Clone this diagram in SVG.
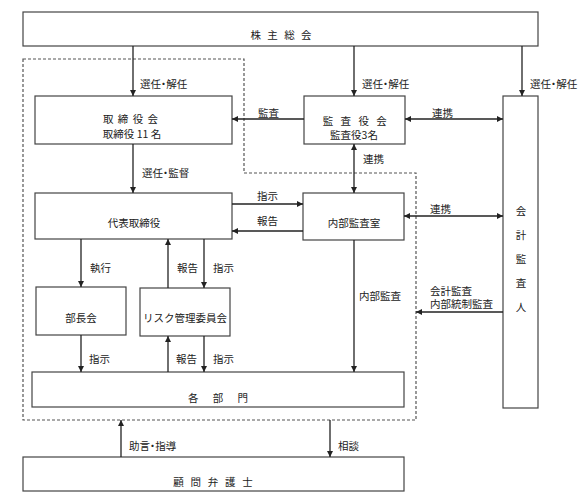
<svg xmlns="http://www.w3.org/2000/svg" width="581" height="504" viewBox="0 0 581 504">
<style>
.box{fill:#fff;stroke:#444;stroke-width:1.2}
.t{font-family:"Noto Sans CJK JP","Noto Sans CJK SC",sans-serif;font-size:10.5px;fill:#222}
.m{text-anchor:middle}
.p{font-feature-settings:"palt"}
.c{fill:none;stroke:#222;stroke-width:1.3}
.dash{fill:none;stroke:#555;stroke-width:1.2;stroke-dasharray:3,2}
</style>
<defs>
<marker id="a" viewBox="0 0 10 10" refX="10" refY="5" markerWidth="6" markerHeight="6" markerUnits="userSpaceOnUse" orient="auto-start-reverse">
<path d="M0,0 L10,5 L0,10 z" fill="#222"/>
</marker>
</defs>
<rect width="581" height="504" fill="#fff"/>
<path class="dash" d="M23,59 H244 V173 H416 V420 H23 Z"/>
<g id="kabunushi"><rect class="box" x="23" y="12" width="515" height="34"/><text class="t m" x="282" y="39" letter-spacing="2">株 主 総 会</text></g>
<g id="torishimariyakukai"><rect class="box" x="35" y="96" width="197" height="48"/><text class="t m" x="131" y="123" letter-spacing="1">取 締 役 会</text><text class="t m" x="132" y="138">取締役 11 名</text></g>
<g id="kansayakukai"><rect class="box" x="304" y="96" width="101" height="48"/><text class="t m" x="356" y="125" letter-spacing="2.5">監 査 役 会</text><text class="t m" x="354" y="139">監査役3名</text></g>
<g id="kaikeikansanin"><rect class="box" x="503" y="96" width="35" height="312"/>
<text class="t m" x="521" y="215">会</text><text class="t m" x="521" y="239">計</text><text class="t m" x="521" y="263">監</text><text class="t m" x="521" y="287">査</text><text class="t m" x="521" y="311">人</text></g>
<g id="daihyo"><rect class="box" x="35" y="193" width="197" height="46"/><text class="t m" x="134" y="227">代表取締役</text></g>
<g id="naibukansashitsu"><rect class="box" x="303" y="193" width="101" height="47"/><text class="t m" x="354" y="227">内部監査室</text></g>
<g id="buchokai"><rect class="box" x="36" y="287" width="90" height="48"/><text class="t m" x="81" y="322">部長会</text></g>
<g id="risk"><rect class="box" x="140" y="288" width="90" height="48"/><text class="t m" x="185" y="322">リスク管理委員会</text></g>
<g id="kakubumon"><rect class="box" x="32" y="372" width="372" height="35"/><text class="t m" x="221" y="402" letter-spacing="6">各 部 門</text></g>
<g id="komon"><rect class="box" x="23" y="457" width="381" height="34"/><text class="t m" x="214" y="485.5" letter-spacing="2.2">顧 問 弁 護 士</text></g>
<g id="connectors">
<line class="c" x1="133" y1="46" x2="133" y2="96" marker-end="url(#a)"/>
<line class="c" x1="354" y1="46" x2="354" y2="96" marker-end="url(#a)"/>
<line class="c" x1="522" y1="46" x2="522" y2="96" marker-end="url(#a)"/>
<line class="c" x1="304" y1="119" x2="232" y2="119" marker-end="url(#a)"/>
<line class="c" x1="405" y1="119" x2="503" y2="119" marker-start="url(#a)" marker-end="url(#a)"/>
<line class="c" x1="354" y1="144" x2="354" y2="193" marker-start="url(#a)" marker-end="url(#a)"/>
<line class="c" x1="133" y1="144" x2="133" y2="193" marker-end="url(#a)"/>
<line class="c" x1="232" y1="204" x2="303" y2="204" marker-end="url(#a)"/>
<line class="c" x1="303" y1="231" x2="232" y2="231" marker-end="url(#a)"/>
<line class="c" x1="404" y1="216" x2="503" y2="216" marker-start="url(#a)" marker-end="url(#a)"/>
<line class="c" x1="81" y1="239" x2="81" y2="287" marker-end="url(#a)"/>
<line class="c" x1="168" y1="288" x2="168" y2="239" marker-end="url(#a)"/>
<line class="c" x1="204" y1="239" x2="204" y2="288" marker-end="url(#a)"/>
<line class="c" x1="354" y1="240" x2="354" y2="372" marker-end="url(#a)"/>
<line class="c" x1="503" y1="312" x2="416" y2="312" marker-end="url(#a)"/>
<line class="c" x1="81" y1="335" x2="81" y2="372" marker-end="url(#a)"/>
<line class="c" x1="168" y1="372" x2="168" y2="336" marker-end="url(#a)"/>
<line class="c" x1="204" y1="336" x2="204" y2="372" marker-end="url(#a)"/>
<line class="c" x1="121" y1="457" x2="121" y2="420" marker-end="url(#a)"/>
<line class="c" x1="330" y1="420" x2="330" y2="457" marker-end="url(#a)"/>
</g>
<g id="labels">
<text class="t p" x="140" y="88">選任・解任</text>
<text class="t p" x="362" y="88">選任・解任</text>
<text class="t p" x="530" y="88">選任・解任</text>
<text class="t" x="258" y="116.5">監査</text>
<text class="t" x="432" y="117">連携</text>
<text class="t" x="363" y="163">連携</text>
<text class="t p" x="142" y="177">選任・監督</text>
<text class="t" x="257" y="200">指示</text>
<text class="t" x="257" y="224.5">報告</text>
<text class="t" x="430" y="213">連携</text>
<text class="t" x="90" y="272">執行</text>
<text class="t" x="177" y="272">報告</text>
<text class="t" x="213" y="272">指示</text>
<text class="t" x="359" y="300">内部監査</text>
<text class="t" x="430" y="294.5">会計監査</text>
<text class="t" x="430" y="308">内部統制監査</text>
<text class="t" x="89" y="363">指示</text>
<text class="t" x="176" y="363">報告</text>
<text class="t" x="213" y="363">指示</text>
<text class="t p" x="129" y="450">助言・指導</text>
<text class="t" x="338" y="450">相談</text>
</g>
</svg>
